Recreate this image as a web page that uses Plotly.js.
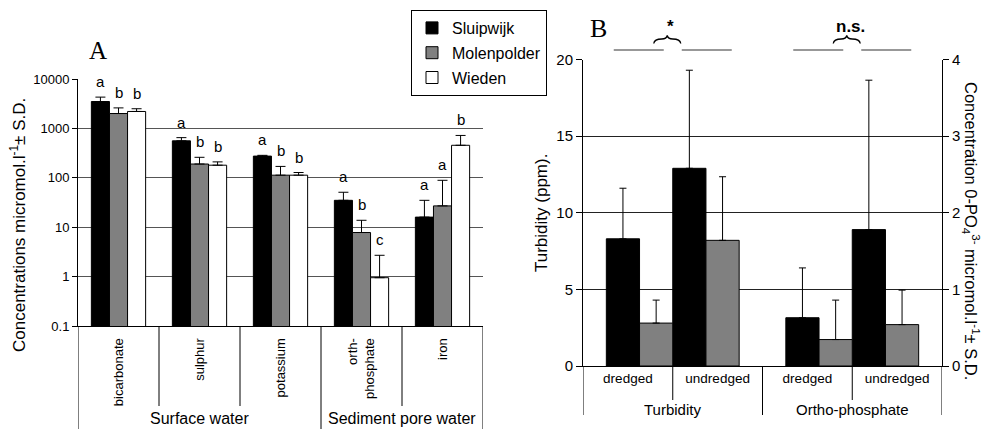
<!DOCTYPE html>
<html>
<head>
<meta charset="utf-8">
<script src="https://cdn.plot.ly/plotly-3.0.1.min.js"></script>
<style>
html,body{margin:0;padding:0;background:#fff;}
#chart{width:981px;height:429px;}
</style>
</head>
<body>
<div id="chart"></div>
<script>
// ---------- Panel A data ----------
const catsA = ['bicarbonate', 'sulphur', 'potassium', 'orth-<br>phosphate', 'iron'];
const groupsA = ['Surface water', 'Surface water', 'Surface water', 'Sediment pore water', 'Sediment pore water'];
const seriesNames = ['Sluipwijk', 'Molenpolder', 'Wieden'];
const sluipwijk = [3500, 560, 275, 35, 16];
const sluipwijkSD = [800, 90, 10, 16, 19];
const molenpolder = [2000, 190, 113, 7.8, 27];
const molenpolderSD = [600, 70, 57, 6, 62];
const wieden = [2200, 180, 113, 0.95, 455];
const wiedenSD = [300, 30, 15, 1.75, 265];
const lettersSluipwijk = ['a', 'a', 'a', 'a', 'a'];
const lettersMolenpolder = ['b', 'b', 'b', 'b', 'a'];
const lettersWieden = ['b', 'b', 'b', 'c', 'b'];
const yTickValsA = [0.1, 1, 10, 100, 1000, 10000];
const yTickTextA = ['0.1', '1', '10', '100', '1000', '10000'];

// ---------- Panel B data ----------
const groupsB = ['Turbidity', 'Turbidity', 'Ortho-phosphate', 'Ortho-phosphate'];
const treatB = ['dredged', 'undredged', 'dredged', 'undredged'];
const turbBlack = [8.3, 12.9];
const turbBlackSD = [3.3, 6.4];
const turbGray = [2.8, 8.2];
const turbGraySD = [1.5, 4.15];
const phosBlack = [0.63, 1.78];
const phosBlackSD = [0.65, 1.95];
const phosGray = [0.345, 0.54];
const phosGraySD = [0.515, 0.45];
const sigB = ['*', 'n.s.'];

// ---------- helpers / styles ----------
const FONT = 'Arial, "Liberation Sans", sans-serif';
const SERIF = '"Liberation Serif", "Times New Roman", serif';
const W = 981, H = 429;
const px = v => v / W;
const py = v => 1 - v / H;
const colors = ['#000000', '#808080', '#ffffff'];
const bargapA = 0.33;
const barWA = (1 - bargapA) / 3;

const seriesA = [sluipwijk, molenpolder, wieden];
const sdA = [sluipwijkSD, molenpolderSD, wiedenSD];
const lettersA = [lettersSluipwijk, lettersMolenpolder, lettersWieden];

const traces = [];
seriesA.forEach((vals, t) => {
  traces.push({
    type: 'bar', x: catsA, y: vals, name: seriesNames[t],
    xaxis: 'x', yaxis: 'y', legendgroup: 'g' + t,
    marker: {color: colors[t], line: {color: '#000', width: 1}},
    error_y: {type: 'data', array: sdA[t], arrayminus: vals.map(() => 0), symmetric: false,
              color: '#000', thickness: 1, width: 5},
    hoverinfo: 'skip'
  });
});

// Panel B bars: the 4 bars of each group are contiguous and centred on the group middle
const idxB = treatB.map((_, i) => i);
const wB = 0.37;
const turbIdx = idxB.filter(i => groupsB[i] === 'Turbidity');
const phosIdx = idxB.filter(i => groupsB[i] === 'Ortho-phosphate');
const firstInGroup = i => i === 0 || groupsB[i - 1] !== groupsB[i];
const offBlack = idx => idx.map(i => firstInGroup(i) ? 0.5 - 2 * wB : -0.5);
const offGray = idx => idx.map(i => firstInGroup(i) ? 0.5 - wB : -0.5 + wB);
function barB(idx, vals, sd, color, yax) {
  return {
    type: 'bar', x: idx, y: vals, xaxis: 'x2', yaxis: yax, showlegend: false,
    width: idx.map(() => wB), offset: color === colors[0] ? offBlack(idx) : offGray(idx),
    marker: {color: color, line: {color: '#000', width: 1}},
    error_y: {type: 'data', array: sd, arrayminus: vals.map(() => 0), symmetric: false,
              color: '#000', thickness: 1, width: 3.5},
    hoverinfo: 'skip'
  };
}
traces.push(barB(turbIdx, turbBlack, turbBlackSD, colors[0], 'y2'));
traces.push(barB(turbIdx, turbGray, turbGraySD, colors[1], 'y2'));
traces.push(barB(phosIdx, phosBlack, phosBlackSD, colors[0], 'y3'));
traces.push(barB(phosIdx, phosGray, phosGraySD, colors[1], 'y3'));

// ---------- shapes ----------
const shapes = [];
const lineStyle = {color: '#000', width: 1};
// Panel A dividers
for (let b = 0; b <= catsA.length; b++) {
  const isGroupEdge = b === 0 || b === catsA.length || groupsA[b - 1] !== groupsA[b];
  shapes.push({type: 'line', xref: 'x', yref: 'paper', x0: b - 0.5, x1: b - 0.5,
    y0: py(326), y1: isGroupEdge ? 0 : py(406), line: lineStyle});
}
// Panel B dividers
for (let b = 0; b <= treatB.length; b++) {
  const isGroupEdge = b === 0 || b === treatB.length || groupsB[b - 1] !== groupsB[b];
  shapes.push({type: 'line', xref: 'x2', yref: 'paper', x0: b - 0.5, x1: b - 0.5,
    y0: py(366), y1: isGroupEdge ? py(415) : py(400), line: lineStyle});
}

// ---------- annotations ----------
const annotations = [];
// significance letters panel A
seriesA.forEach((vals, t) => {
  vals.forEach((v, i) => {
    annotations.push({xref: 'x', yref: 'y', x: i + (t - 1) * barWA, y: Math.log10(v + sdA[t][i]),
      text: lettersA[t][i], showarrow: false, xanchor: 'center', yanchor: 'bottom', yshift: 5,
      font: {family: FONT, size: 15, color: '#000'}});
  });
});
// group labels A
[...new Set(groupsA)].forEach(g => {
  const ids = groupsA.map((gg, i) => gg === g ? i : null).filter(v => v !== null);
  const mid = (ids[0] + ids[ids.length - 1]) / 2;
  annotations.push({xref: 'x', yref: 'paper', x: mid, y: py(418), text: g, showarrow: false,
    xanchor: 'center', yanchor: 'middle', font: {family: FONT, size: 16, color: '#000'}});
});
// group labels B + significance
[...new Set(groupsB)].forEach((g, k) => {
  const ids = groupsB.map((gg, i) => gg === g ? i : null).filter(v => v !== null);
  const mid = (ids[0] + ids[ids.length - 1]) / 2;
  annotations.push({xref: 'x2', yref: 'paper', x: mid, y: py(409), text: g, showarrow: false,
    xanchor: 'center', yanchor: 'middle', font: {family: FONT, size: 15, color: '#000'}});
  annotations.push({xref: 'x2', yref: 'paper', x: mid, y: py(27), xshift: -2, text: '<b>' + sigB[k] + '</b>',
    showarrow: false, xanchor: 'center', yanchor: 'middle', font: {family: FONT, size: 17, color: '#000'}});
  // bracket lines
  shapes.push({type: 'line', xref: 'x2', xsizemode: 'pixel', xanchor: mid, x0: -59, x1: -9,
    yref: 'paper', y0: py(50), y1: py(50), line: {color: '#333', width: 1.2}});
  shapes.push({type: 'line', xref: 'x2', xsizemode: 'pixel', xanchor: mid, x0: 9, x1: 59,
    yref: 'paper', y0: py(50), y1: py(50), line: {color: '#333', width: 1.2}});
  shapes.push({type: 'path', xref: 'x2', xsizemode: 'pixel', xanchor: mid,
    yref: 'paper', ysizemode: 'pixel', yanchor: py(40),
    path: 'M-19,-3.5 C-18.5,0 -15.5,1 -11,1 C-8,1 -6,2 -5.5,4.5 C-5,2 -3,1 0,1 C4.5,1 7.5,0 8,-3.5',
    line: {color: '#000', width: 1.3}});
});
// panel letters
annotations.push({xref: 'paper', yref: 'paper', x: px(98), y: py(50), text: 'A', showarrow: false,
  xanchor: 'center', yanchor: 'middle', font: {family: SERIF, size: 25, color: '#000'}});
annotations.push({xref: 'paper', yref: 'paper', x: px(598), y: py(28), text: 'B', showarrow: false,
  xanchor: 'center', yanchor: 'middle', font: {family: SERIF, size: 26, color: '#000'}});
// axis titles
annotations.push({xref: 'paper', yref: 'paper', x: px(18), y: py(225), textangle: -90, showarrow: false,
  xanchor: 'center', yanchor: 'middle',
  text: 'Concentrations micromol.l<sup>-1</sup>± S.D.', font: {family: FONT, size: 17, color: '#000'}});
annotations.push({xref: 'paper', yref: 'paper', x: px(542), y: py(213), textangle: -90, showarrow: false,
  xanchor: 'center', yanchor: 'middle',
  text: 'Turbidity (ppm).', font: {family: FONT, size: 17, color: '#000'}});
annotations.push({xref: 'paper', yref: 'paper', x: px(971), y: py(231), textangle: 90, showarrow: false,
  xanchor: 'center', yanchor: 'middle',
  text: 'Concentration 0-PO<sub>4</sub><sup>3-</sup> micromol.l<sup>-1</sup>± S.D.',
  font: {family: FONT, size: 16.5, color: '#000'}});

const layout = {
  width: W, height: H,
  margin: {l: 0, r: 0, t: 0, b: 0, pad: 0},
  paper_bgcolor: '#fff', plot_bgcolor: 'rgba(0,0,0,0)',
  font: {family: FONT, color: '#000'},
  barmode: 'group', bargap: bargapA, bargroupgap: 0,
  showlegend: true,
  legend: {x: px(547), xanchor: 'right', y: py(10), yanchor: 'top',
    bgcolor: '#fff', bordercolor: '#000', borderwidth: 1,
    font: {family: FONT, size: 16, color: '#000'}, tracegroupgap: 1, itemwidth: 30},
  xaxis: {domain: [px(78), px(483)], anchor: 'y', type: 'category', range: [-0.5, catsA.length - 0.5],
    ticks: '', tickangle: -90, ticklabelstandoff: 6, tickfont: {family: FONT, size: 13}, showline: true, linecolor: '#000',
    linewidth: 1, showgrid: false, zeroline: false, fixedrange: true},
  yaxis: {domain: [py(326), py(79)], anchor: 'x', type: 'log', range: [-1, 4],
    tickvals: yTickValsA, ticktext: yTickTextA, ticks: 'outside', ticklen: 5, tickcolor: '#000',
    tickfont: {family: FONT, size: 13}, showgrid: true, gridcolor: '#555', gridwidth: 1,
    showline: true, linecolor: '#000', linewidth: 1, zeroline: false, fixedrange: true},
  xaxis2: {domain: [px(583), px(942)], anchor: 'y2', type: 'linear', range: [-0.5, treatB.length - 0.5],
    tickvals: idxB, ticktext: treatB, ticks: '', tickfont: {family: FONT, size: 13.5},
    showline: true, linecolor: '#000', linewidth: 1, showgrid: false, zeroline: false, fixedrange: true},
  yaxis2: {domain: [py(366), py(59.5)], anchor: 'x2', range: [0, 20], dtick: 5, tick0: 0,
    ticks: 'outside', ticklen: 6, tickcolor: '#000', tickfont: {family: FONT, size: 15},
    showgrid: true, gridcolor: '#222', gridwidth: 1, showline: true, linecolor: '#000', linewidth: 1,
    zeroline: false, fixedrange: true},
  yaxis3: {overlaying: 'y2', anchor: 'x2', side: 'right', range: [0, 4], dtick: 1, tick0: 0,
    ticks: 'outside', ticklen: 6, tickcolor: '#000', tickfont: {family: FONT, size: 15},
    showgrid: false, showline: true, linecolor: '#000', linewidth: 1, zeroline: false, fixedrange: true},
  shapes: shapes,
  annotations: annotations
};

Plotly.newPlot('chart', traces, layout, {staticPlot: true, displayModeBar: false});
</script>
</body>
</html>
